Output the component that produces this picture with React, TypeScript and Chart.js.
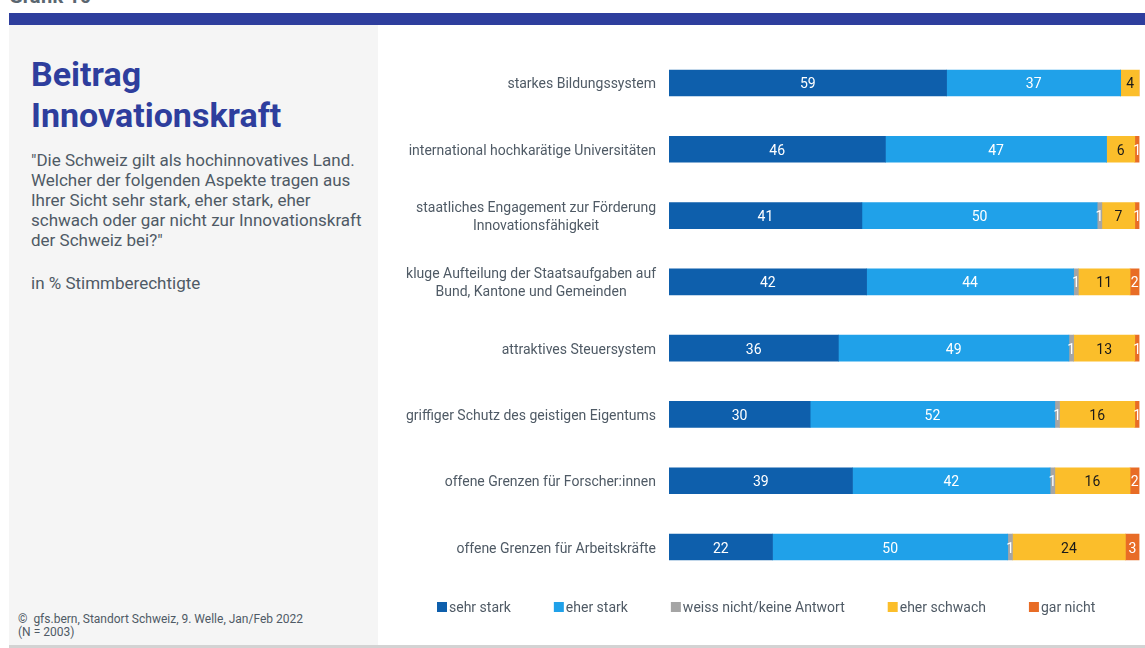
import React, { useEffect, useRef } from "react";
import { Chart, registerables } from "chart.js";

Chart.register(...registerables);

const categories = [
  "starkes Bildungssystem",
  "international hochkarätige Universitäten",
  "staatliches Engagement zur Förderung\nInnovationsfähigkeit",
  "kluge Aufteilung der Staatsaufgaben auf\nBund, Kantone und Gemeinden",
  "attraktives Steuersystem",
  "griffiger Schutz des geistigen Eigentums",
  "offene Grenzen für Forscher:innen",
  "offene Grenzen für Arbeitskräfte",
];
const seriesNames = ["sehr stark", "eher stark", "weiss nicht/keine Antwort", "eher schwach", "gar nicht"];
const sehrStark = [59, 46, 41, 42, 36, 30, 39, 22];
const eherStark = [37, 47, 50, 44, 49, 52, 42, 50];
const weissNicht = [0, 0, 1, 1, 1, 1, 1, 1];
const eherSchwach = [4, 6, 7, 11, 13, 16, 16, 24];
const garNicht = [0, 1, 1, 2, 1, 1, 2, 3];
const seriesColors = ["#0e5fac", "#20a1e9", "#a5a5a5", "#fbbe2b", "#e86c26"];
const labelColors = ["#ffffff", "#ffffff", "#ffffff", "#1a1a1a", "#ffffff"];

const FONT = "Roboto, 'Noto Sans', sans-serif";
const TEXT = "#4f5a65";

const overlayPlugin = {
  id: "overlay",
  afterDatasetsDraw(chart: any) {
    const ctx = chart.ctx;
    const yScale = chart.scales.y;
    ctx.save();
    // values inside bars
    ctx.font = `14px ${FONT}`;
    ctx.textAlign = "center";
    ctx.textBaseline = "middle";
    chart.data.datasets.forEach((ds: any, di: number) => {
      const meta = chart.getDatasetMeta(di);
      meta.data.forEach((bar: any, i: number) => {
        const v = ds.data[i];
        if (!v) return;
        const props = bar.getProps(["x", "y", "base"], true);
        ctx.fillStyle = labelColors[di];
        ctx.fillText(String(v), (props.x + props.base) / 2, props.y + 2);
      });
    });
    // category labels
    ctx.fillStyle = TEXT;
    ctx.font = `14px ${FONT}`;
    const rightX = chart.chartArea.left - 13;
    categories.forEach((c, i) => {
      const y = yScale.getPixelForValue(i);
      const lines = c.split("\n");
      const widths = lines.map((l) => ctx.measureText(l).width);
      const maxW = Math.max(...widths);
      const cx = rightX - maxW / 2;
      const lh = 18;
      lines.forEach((l, li) => {
        ctx.textAlign = "center";
        ctx.fillText(l, cx, y + 2 + (li - (lines.length - 1) / 2) * lh);
      });
    });
    // legend
    let x = 59;
    const ly = 582;
    ctx.textAlign = "left";
    seriesNames.forEach((n, i) => {
      ctx.fillStyle = seriesColors[i];
      ctx.fillRect(x, ly - 5, 10, 10);
      ctx.fillStyle = TEXT;
      ctx.fillText(n, x + 12, ly + 1);
      x += 12 + ctx.measureText(n).width + 43;
    });
    ctx.restore();
  },
};

export default function App() {
  const ref = useRef<HTMLCanvasElement>(null);
  useEffect(() => {
    document.body.style.margin = "0";
    const values = [sehrStark, eherStark, weissNicht, eherSchwach, garNicht];
    const chart = new Chart(ref.current as HTMLCanvasElement, {
      type: "bar",
      data: {
        labels: categories,
        datasets: values.map((d, i) => ({
          label: seriesNames[i],
          data: d,
          backgroundColor: seriesColors[i],
          borderWidth: 0,
          barThickness: 26,
        })),
      },
      options: {
        indexAxis: "y",
        responsive: false,
        animation: false,
        layout: { padding: { left: 291, right: 5.5, top: 24.85, bottom: 64.85 } },
        scales: {
          x: { stacked: true, min: 0, max: 100, display: false },
          y: { stacked: true, display: false },
        },
        plugins: { legend: { display: false }, tooltip: { enabled: false } },
      },
      plugins: [overlayPlugin],
    } as any);
    return () => chart.destroy();
  }, []);

  return (
    <div style={{ position: "absolute", left: 0, top: 0, width: 1145, height: 648, background: "#fff", overflow: "hidden", fontFamily: FONT }}>
      <div style={{ position: "absolute", left: 9, top: -16, fontSize: 20, fontWeight: 700, color: "#5a6670" }}>Grafik 10</div>
      <div style={{ position: "absolute", left: 9, top: 13, width: 1136, height: 12, background: "#2e3e9d" }} />
      <div style={{ position: "absolute", left: 9, top: 25, width: 369, height: 620, background: "#f5f5f5" }} />
      <div style={{ position: "absolute", left: 9, top: 645, width: 1136, height: 3, background: "#d3d3d3" }} />
      <div style={{ position: "absolute", left: 31, top: 54, fontSize: 34, fontWeight: 700, color: "#2e3e9d", lineHeight: "41px", whiteSpace: "nowrap" }}>
        Beitrag<br />Innovationskraft
      </div>
      <div style={{ position: "absolute", left: 31, top: 150, fontSize: 17, color: TEXT, lineHeight: "20px", whiteSpace: "nowrap" }}>
        "Die Schweiz gilt als hochinnovatives Land.<br />
        Welcher der folgenden Aspekte tragen aus<br />
        Ihrer Sicht sehr stark, eher stark, eher<br />
        schwach oder gar nicht zur Innovationskraft<br />
        der Schweiz bei?"
      </div>
      <div style={{ position: "absolute", left: 31, top: 273, fontSize: 17, color: TEXT, lineHeight: "20px" }}>
        in % Stimmberechtigte
      </div>
      <div style={{ position: "absolute", left: 18, top: 613, fontSize: 12, color: TEXT, lineHeight: "13px", whiteSpace: "nowrap" }}>
        ©&nbsp; gfs.bern, Standort Schweiz, 9. Welle, Jan/Feb 2022<br />(N = 2003)
      </div>
      <canvas ref={ref} width={767} height={620} style={{ position: "absolute", left: 378, top: 25, width: 767, height: 620 }} />
    </div>
  );
}
